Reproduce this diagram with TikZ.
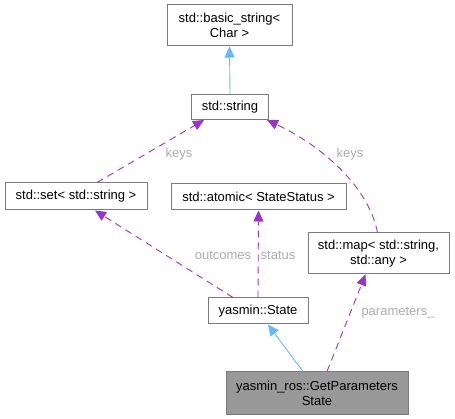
\documentclass[tikz,border=0pt]{standalone}
\usepackage{fontspec}
\setmainfont{Liberation Sans}
\usetikzlibrary{arrows.meta,calc}
\definecolor{edgeblue}{HTML}{63B8FF}
\definecolor{edgepurple}{HTML}{9A32CD}
\definecolor{boxborder}{HTML}{7A7A7A}
\definecolor{lbl}{HTML}{ADADAD}
\tikzset{
  cls/.style={draw=boxborder, line width=1pt, fill=white, inner sep=0pt, align=center,
    font=\fontsize{13}{15}\selectfont},
  inh/.style={draw=edgeblue, line width=0.9pt, -{Triangle[length=11pt,width=10pt]}},
  use/.style={draw=edgepurple, line width=0.9pt, dash pattern=on 7pt off 5pt,
    -{Triangle[length=11pt,width=10pt]}},
  lab/.style={text=lbl, font=\fontsize{13}{15}\selectfont, inner sep=0pt}
}
\begin{document}
\begin{tikzpicture}[x=1pt,y=-1pt]
\useasboundingbox (0,0) rectangle (455,419);
\node[cls, minimum width=125pt, minimum height=41pt] (bstr) at (229.5,25.5) {std::basic\_string\textless\\Char \textgreater};
\node[cls, minimum width=77pt, minimum height=25pt] (str) at (230,107) {std::string};
\node[cls, minimum width=142pt, minimum height=27pt] (set) at (76,196.5) {std::set\textless{} std::string \textgreater};
\node[cls, minimum width=175pt, minimum height=26pt] (atom) at (258.5,197) {std::atomic\textless{} StateStatus \textgreater};
\node[cls, minimum width=141pt, minimum height=41pt] (map) at (378.5,253.5) {std::map\textless{} std::string,\\std::any \textgreater};
\node[cls, minimum width=100pt, minimum height=26pt] (state) at (258,311) {yasmin::State};
\node[cls, fill=black!40, minimum width=182pt, minimum height=42pt] (gps) at (317,393) {yasmin\_ros::GetParameters\\State};

\draw[inh] (str.north) -- (bstr.south);
\draw[use] ($(set.north)+(21,0)$) -- ($(str.south west)+(13,0)$);
\draw[use] ($(map.north)+(-1,0)$) .. controls (368,185) and (320,145) .. ($(str.south east)+(-2,0)$);
\draw[use] ($(state.north)+(-25,0)$) -- ($(set.south)+(19,0)$);
\draw[use] (state.north) -- (atom.south);
\draw[use] ($(gps.north)+(10,0)$) -- ($(map.south)+(-13,0)$);
\draw[inh] ($(gps.north)+(-14,0)$) -- ($(state.south)+(10,0)$);

\node[lab] (l1) at (179,154) {keys};
\node[lab] (l2) at (350,154) {keys};
\node[lab] (l3) at (223,255) {outcomes};
\node[lab] (l4) at (278,255) {status};
\node[lab] (l5) at (398,313) {parameters\_};
\end{tikzpicture}
\end{document}
